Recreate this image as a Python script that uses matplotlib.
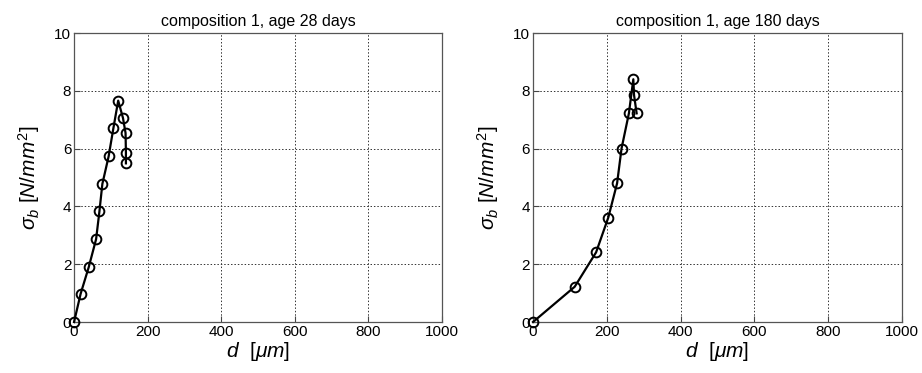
import matplotlib
matplotlib.use("Agg")
import matplotlib.pyplot as plt

# Data
d_28 = [0, 18, 40, 60, 69, 77, 94, 107, 120, 133, 140, 141, 141]
s_28 = [0, 0.98, 1.9, 2.87, 3.83, 4.78, 5.73, 6.71, 7.66, 7.06, 6.54, 5.85, 5.49]

d_180 = [0, 113, 171, 204, 228, 240, 260, 272, 274, 281]
s_180 = [0, 1.22, 2.41, 3.61, 4.80, 6.00, 7.22, 8.40, 7.85, 7.22]

titles = ["composition 1, age 28 days", "composition 1, age 180 days"]
xticks = [0, 200, 400, 600, 800, 1000]
yticks = [0, 2, 4, 6, 8, 10]

plt.rcParams['font.family'] = ['Liberation Sans', 'DejaVu Sans']
plt.rcParams['mathtext.fontset'] = 'custom'
plt.rcParams['mathtext.rm'] = 'Liberation Sans'
plt.rcParams['mathtext.it'] = 'Liberation Sans:italic'

fig = plt.figure(figsize=(9.22, 3.73), dpi=100)
ax1 = fig.add_axes([0.0803, 0.1367, 0.3991, 0.7748])
ax2 = fig.add_axes([0.5781, 0.1367, 0.4000, 0.7748])

for ax, d, s, t in [(ax1, d_28, s_28, titles[0]), (ax2, d_180, s_180, titles[1])]:
    ax.plot(d, s, '-o', color='black', lw=1.6, markersize=7,
            markerfacecolor='none', markeredgewidth=1.4, clip_on=False, zorder=3)
    ax.set_xlim(0, 1000)
    ax.set_ylim(0, 10)
    ax.set_xticks(xticks)
    ax.set_yticks(yticks)
    ax.grid(True, color='#333333', linestyle=(0, (1.5, 2)), linewidth=0.7)
    ax.tick_params(direction='in', labelsize=11, length=4, color='#444444', pad=2)
    for sp in ax.spines.values():
        sp.set_color('#555555')
        sp.set_linewidth(0.9)
    ax.set_title(t, fontsize=11.5, pad=5)
    ax.set_xlabel(r'$d$  [$\mu m$]', fontsize=15, labelpad=1)
    ax.set_ylabel(r'$\sigma_b$ [$N/mm^2$]', fontsize=15, labelpad=9)

fig.savefig("out.png", dpi=100)
